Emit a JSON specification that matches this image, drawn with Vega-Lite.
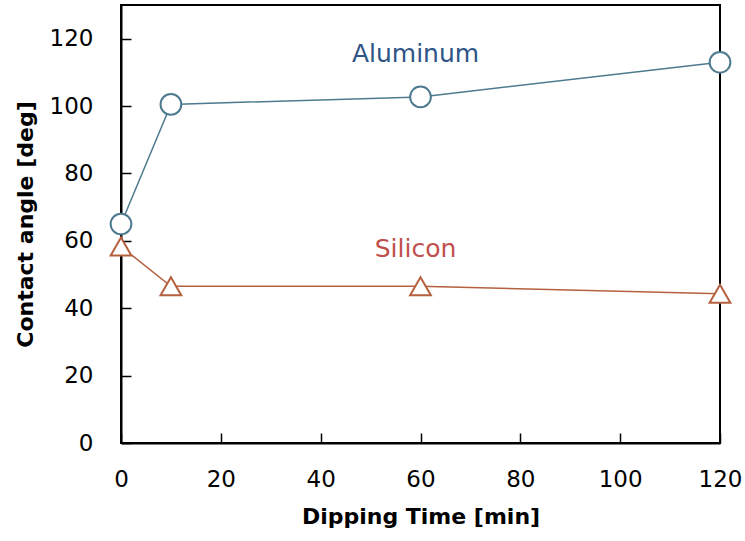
{
  "$schema": "https://vega.github.io/schema/vega-lite/v6.json",
  "width": 599,
  "height": 438,
  "autosize": {"type": "none"},
  "padding": {"left": 121, "top": 5, "right": 25, "bottom": 98},
  "background": "white",
  "config": {
    "font": "DejaVu Sans",
    "view": {"stroke": "black", "strokeWidth": 2},
    "axis": {
      "grid": false,
      "domainColor": "black",
      "domainWidth": 2,
      "tickColor": "black",
      "tickWidth": 1.5,
      "tickSize": -10,
      "labelFlush": false,
      "labelFont": "DejaVu Sans",
      "labelFontSize": 23,
      "labelColor": "black",
      "titleFont": "DejaVu Sans",
      "titleFontSize": 22,
      "titleFontWeight": "bold",
      "titleColor": "black"
    }
  },
  "datasets": {
    "points": [
      {"time": 0, "angle": 65, "material": "Aluminum"},
      {"time": 10, "angle": 100.5, "material": "Aluminum"},
      {"time": 60, "angle": 102.7, "material": "Aluminum"},
      {"time": 120, "angle": 113, "material": "Aluminum"},
      {"time": 0, "angle": 58.3, "material": "Silicon"},
      {"time": 10, "angle": 46.5, "material": "Silicon"},
      {"time": 60, "angle": 46.5, "material": "Silicon"},
      {"time": 120, "angle": 44.3, "material": "Silicon"}
    ],
    "labels": [
      {"time": 59, "angle": 115.5, "material": "Aluminum", "text": "Aluminum"},
      {"time": 59, "angle": 57.5, "material": "Silicon", "text": "Silicon"}
    ]
  },
  "encoding": {
    "x": {
      "field": "time", "type": "quantitative",
      "scale": {"domain": [0, 120], "nice": false},
      "axis": {"values": [0, 20, 40, 60, 80, 100, 120], "title": "Dipping Time [min]", "labelPadding": 35, "titlePadding": 15}
    },
    "y": {
      "field": "angle", "type": "quantitative",
      "scale": {"domain": [0, 130], "nice": false},
      "axis": {"values": [0, 20, 40, 60, 80, 100, 120], "title": "Contact angle [deg]", "labelPadding": 38, "titlePadding": 12}
    }
  },
  "layer": [
    {
      "data": {"name": "points"},
      "mark": {"type": "line", "strokeWidth": 1.5},
      "encoding": {
        "color": {"field": "material", "type": "nominal", "scale": {"domain": ["Aluminum", "Silicon"], "range": ["#4d7a8f", "#b5603f"]}, "legend": null},
        "detail": {"field": "material"}
      }
    },
    {
      "data": {"name": "points"},
      "mark": {"type": "point", "filled": true, "fill": "white", "strokeWidth": 2, "size": 430, "opacity": 1},
      "encoding": {
        "stroke": {"field": "material", "type": "nominal", "scale": {"domain": ["Aluminum", "Silicon"], "range": ["#4d7a8f", "#b5603f"]}, "legend": null},
        "shape": {"field": "material", "type": "nominal", "scale": {"domain": ["Aluminum", "Silicon"], "range": ["circle", "triangle-up"]}, "legend": null}
      }
    },
    {
      "data": {"name": "labels"},
      "mark": {"type": "text", "fontSize": 25, "font": "DejaVu Sans"},
      "encoding": {
        "text": {"field": "text"},
        "color": {"field": "material", "type": "nominal", "scale": {"domain": ["Aluminum", "Silicon"], "range": ["#2f5486", "#c0504d"]}, "legend": null}
      }
    }
  ],
  "resolve": {"scale": {"color": "independent"}}
}
